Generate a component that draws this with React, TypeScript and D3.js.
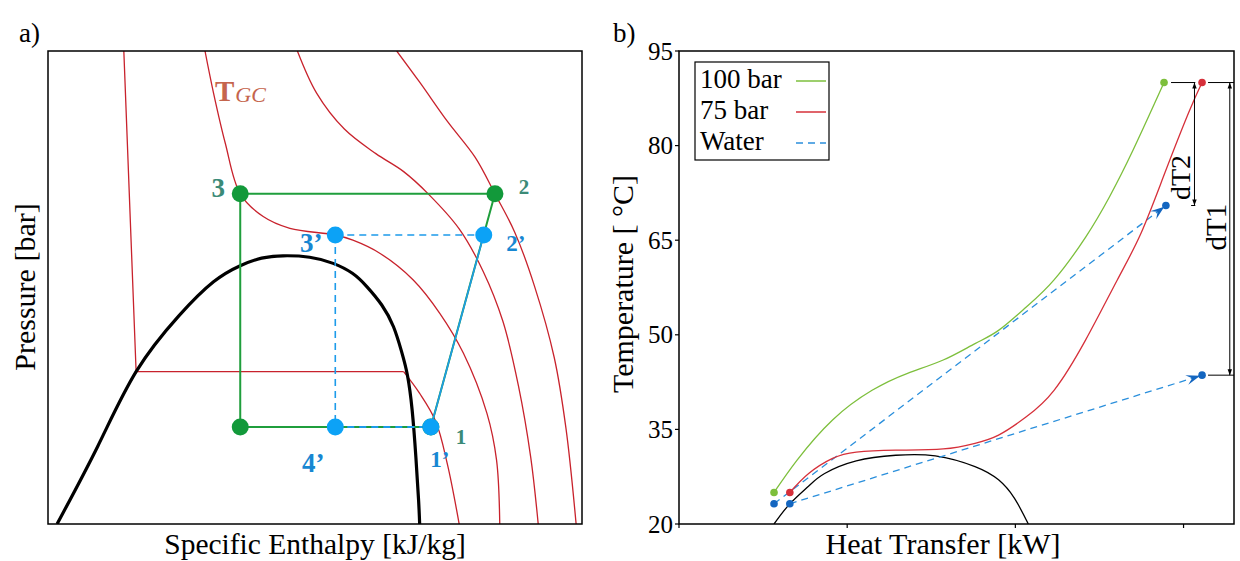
import React from 'react';
import * as d3 from 'd3';

const FONT = '"Liberation Serif", "DejaVu Serif", serif';

// ---------- Panel a (p-h diagram, normalised units 0..100) ----------
const domeA: [number, number][] = [[1.7,0],[9.3,16.4],[16.5,32.2],[24.5,44],[31,51.2],[36,54.6],[40,56.2],[44,56.7],[49,56.4],[53.4,55.1],[57,53],[59.7,50.2],[62.5,46.3],[64.7,41.7],[66.2,36.5],[67.3,31.5],[68.2,24],[68.9,14],[69.4,5],[69.6,0]];
const iso1Straight: [number, number][] = [[14.2,100],[16.5,32.2],[66.6,32.2]];
const iso1Curve: [number, number][] = [[66.6,32.2],[69.6,27.6],[72.6,21.7],[74.8,12.6],[77,0]];
const iso2: [number, number][] = [[29.4,100],[31,91.1],[33.2,80.5],[36,69.8],[40.3,65],[45.3,62.5],[53.8,61.1],[57.1,60],[62.2,57.2],[68.4,51.6],[73.4,44.5],[77.8,36.1],[82.2,23.4],[84,13.5],[84.6,0]];
const iso3: [number, number][] = [[46.7,100],[50.3,91.1],[55.5,83.5],[61.4,78.3],[66.6,74.5],[71.2,69.8],[77,62.4],[81.5,53.4],[85.2,42.8],[88.1,29.2],[90.4,14.1],[91.8,0]];
const iso4: [number, number][] = [[65.3,100],[69.6,93.4],[74.8,85.1],[80,77.5],[83.7,69.8],[87.4,61.7],[91.1,50.3],[94.8,35.2],[97,20.2],[98.9,0]];

const cycleLabels = ['3', '2', '1', ''];
const cycleH = [36, 83.7, 71.7, 36];
const cycleP = [69.8, 69.8, 20.5, 20.5];
const primeLabels = ['3’', '2’', '1’', '4’'];
const primeH = [53.8, 81.6, 71.7, 53.8];
const primeP = [61.1, 61.1, 20.5, 20.5];

// ---------- Panel b (T-Q diagram) ----------
const yTicks = [20, 35, 50, 65, 80, 95];
const xTicks = [0, 1, 2, 3];
const bar100: [number, number][] = [[0.565,25],[0.701,30.1],[0.913,36.5],[1.148,41.2],[1.359,43.9],[1.571,46],[1.76,48.6],[1.9,50.7],[2.065,54.4],[2.23,58.7],[2.418,65.5],[2.56,71.9],[2.7,79.3],[2.884,90]];
const bar75: [number, number][] = [[0.659,25],[0.771,28],[0.913,30.4],[1.054,31.4],[1.289,31.7],[1.571,31.9],[1.76,32.8],[1.9,34.1],[2.065,37],[2.23,41.2],[2.418,49.2],[2.606,58.7],[2.747,66.1],[2.888,75.6],[3.03,85.2],[3.11,90]];
const domeB: [number, number][] = [[0.565,20],[0.659,23.2],[0.77,26],[0.866,28],[1.054,30],[1.289,30.9],[1.524,30.8],[1.76,29.1],[1.9,27],[1.994,24.1],[2.077,20]];
const water1: [number, number][] = [[0.565,23.2],[2.895,70.5]];
const water2: [number, number][] = [[0.659,23.2],[3.11,43.6]];
const legendNames = ['100 bar', '75 bar', 'Water'];
const legendColors = ['#7dbf3c', '#d6303a', '#2a8fdc'];

export default function App() {
  const xA = d3.scaleLinear().domain([0, 100]).range([48, 582]);
  const yA = d3.scaleLinear().domain([0, 100]).range([524, 51]);
  const xB = d3.scaleLinear().domain([0, 3.3]).range([679, 1234]);
  const yB = d3.scaleLinear().domain([20, 95]).range([524, 51]);

  const curveA = d3.line<[number, number]>().x(d => xA(d[0])).y(d => yA(d[1])).curve(d3.curveCatmullRom.alpha(0.5));
  const natA = d3.line<[number, number]>().x(d => xA(d[0])).y(d => yA(d[1])).curve(d3.curveNatural);
  const linA = d3.line<[number, number]>().x(d => xA(d[0])).y(d => yA(d[1]));
  const curveB = d3.line<[number, number]>().x(d => xB(d[0])).y(d => yB(d[1])).curve(d3.curveNatural);
  const linB = d3.line<[number, number]>().x(d => xB(d[0])).y(d => yB(d[1]));

  const red = '#c8222c';
  const greenC = '#1f9e3c';
  const greenDot = '#12993a';
  const blueDot = '#0ca2f6';
  const blueLine = '#1d9bea';
  const teal = '#3b8a77';
  const blueTxt = '#1787d2';
  const waterDot = '#1466c0';

  const arrowHead = (pts: [number, number][], color: string, L = 14, W = 5) => {
    const [x0, y0] = [xB(pts[0][0]), yB(pts[0][1])];
    const [x1, y1] = [xB(pts[1][0]), yB(pts[1][1])];
    const a = Math.atan2(y1 - y0, x1 - x0);
    const c = Math.cos(a), s = Math.sin(a);
    const tx = x1 - 2 * c, ty = y1 - 2 * s;
    const p = [
      [tx, ty],
      [tx - L * c + W * s, ty - L * s - W * c],
      [tx - 0.6 * L * c, ty - 0.6 * L * s],
      [tx - L * c - W * s, ty - L * s + W * c],
    ];
    return <polygon points={p.map(q => q.join(',')).join(' ')} fill={color} />;
  };

  const vArrow = (x: number, t0: number, t1: number) => {
    const X = xB(x), Y0 = yB(t0), Y1 = yB(t1);
    const L = 6, W = 2.2;
    return (
      <g>
        <line x1={X} x2={X} y1={Y0} y2={Y1} stroke="#000" strokeWidth={1} />
        <polygon points={`${X},${Y0} ${X - W},${Y0 + L} ${X + W},${Y0 + L}`} fill="#000" />
        <polygon points={`${X},${Y1} ${X - W},${Y1 - L} ${X + W},${Y1 - L}`} fill="#000" />
      </g>
    );
  };

  // green cycle path order: 3 -> 2 -> 1 -> 4 -> 3
  const greenPts: [number, number][] = [0, 1, 2, 3, 0].map(i => [cycleH[i], cycleP[i]]);
  const labelOffA = [[-22, -6], [29, -7], [30, 10], [0, 0]];
  const labelOffP = [[-24, 8], [32, 9], [9, 32], [-22, 36]];

  return (
    <svg width={1240} height={561} style={{ position: 'absolute', left: 0, top: 0, background: '#fff' }} fontFamily={FONT}>
      <defs>
        <clipPath id="clipA"><rect x={48} y={51} width={534} height={473} /></clipPath>
        <clipPath id="clipB"><rect x={679} y={51} width={555} height={473} /></clipPath>
      </defs>
      <rect width={1240} height={561} fill="#fff" />

      {/* ---------------- Panel a ---------------- */}
      <text x={19} y={42} fontSize={27}>a)</text>
      <g clipPath="url(#clipA)" fill="none">
        <path d={linA(iso1Straight) || ''} stroke={red} strokeWidth={1.3} />
        <path d={curveA(iso1Curve) || ''} stroke={red} strokeWidth={1.3} />
        <path d={curveA(iso2) || ''} stroke={red} strokeWidth={1.3} />
        <path d={curveA(iso3) || ''} stroke={red} strokeWidth={1.3} />
        <path d={curveA(iso4) || ''} stroke={red} strokeWidth={1.3} />
        <path d={natA(domeA) || ''} stroke="#000" strokeWidth={3.2} />
        <path d={linA(greenPts) || ''} stroke={greenC} strokeWidth={2} />
        {/* primed cycle */}
        <path d={linA([[primeH[0], primeP[0]], [primeH[1], primeP[1]]]) || ''} stroke={blueLine} strokeWidth={1.6} strokeDasharray="7,5" />
        <path d={linA([[primeH[0], primeP[0]], [primeH[3], primeP[3]]]) || ''} stroke={blueLine} strokeWidth={1.6} strokeDasharray="7,5" />
        <path d={linA([[primeH[3], primeP[3]], [primeH[2], primeP[2]]]) || ''} stroke={blueLine} strokeWidth={2} strokeDasharray="7,5" />
        <path d={linA([[primeH[2], primeP[2]], [primeH[1], primeP[1]]]) || ''} stroke={blueLine} strokeWidth={1.6} />
      </g>
      {cycleH.map((h, i) => (
        <circle key={'g' + i} cx={xA(h)} cy={yA(cycleP[i])} r={8.5} fill={greenDot} />
      ))}
      {primeH.map((h, i) => (
        <circle key={'b' + i} cx={xA(h)} cy={yA(primeP[i])} r={8.5} fill={blueDot} />
      ))}
      {cycleLabels.map((l, i) => l ? (
        <text key={'gl' + i} x={xA(cycleH[i]) + labelOffA[i][0]} y={yA(cycleP[i]) + labelOffA[i][1]} fontSize={i === 0 ? 27 : 21} fontWeight="bold" fill={teal} textAnchor="middle" dominantBaseline="central">{l}</text>
      ) : null)}
      {primeLabels.map((l, i) => (
        <text key={'pl' + i} x={xA(primeH[i]) + labelOffP[i][0]} y={yA(primeP[i]) + labelOffP[i][1]} fontSize={i === 0 || i === 3 ? 27 : 23} fontWeight="bold" fill={blueTxt} textAnchor="middle" dominantBaseline="central">{l}</text>
      ))}
      <text x={215} y={101} fill="#c5654d" fontSize={29}>
        <tspan fontWeight="bold">T</tspan>
        <tspan fontStyle="italic" fontSize={22} dx={1} dy={1}>GC</tspan>
      </text>
      <rect x={48} y={51} width={534} height={473} fill="none" stroke="#000" strokeWidth={1.5} />
      <text x={315} y={554} fontSize={29.5} textAnchor="middle">Specific Enthalpy [kJ/kg]</text>
      <text transform="translate(35,287) rotate(-90)" fontSize={30} textAnchor="middle">Pressure [bar]</text>

      {/* ---------------- Panel b ---------------- */}
      <text x={613} y={42} fontSize={27}>b)</text>
      <g clipPath="url(#clipB)" fill="none">
        <path d={curveB(domeB) || ''} stroke="#000" strokeWidth={1.3} />
        <path d={linB(water1) || ''} stroke={legendColors[2]} strokeWidth={1.3} strokeDasharray="7,5" />
        <path d={linB(water2) || ''} stroke={legendColors[2]} strokeWidth={1.3} strokeDasharray="7,5" />
        <path d={curveB(bar100) || ''} stroke={legendColors[0]} strokeWidth={1.3} />
        <path d={curveB(bar75) || ''} stroke={legendColors[1]} strokeWidth={1.3} />
      </g>
      {arrowHead(water1, waterDot)}
      {arrowHead(water2, waterDot)}
      {[bar100[0], bar100[bar100.length - 1]].map((d, i) => (
        <circle key={'d100' + i} cx={xB(d[0])} cy={yB(d[1])} r={3.8} fill={legendColors[0]} />
      ))}
      {[bar75[0], bar75[bar75.length - 1]].map((d, i) => (
        <circle key={'d75' + i} cx={xB(d[0])} cy={yB(d[1])} r={3.8} fill={legendColors[1]} />
      ))}
      {[water1[0], water1[1], water2[0], water2[1]].map((d, i) => (
        <circle key={'dw' + i} cx={xB(d[0])} cy={yB(d[1])} r={3.8} fill={waterDot} />
      ))}

      {/* dT annotations */}
      <line x1={xB(bar100[bar100.length - 1][0]) + 7} x2={xB(3.07)} y1={yB(90)} y2={yB(90)} stroke="#000" strokeWidth={1} />
      <line x1={xB(bar75[bar75.length - 1][0]) + 6} x2={xB(3.3)} y1={yB(90)} y2={yB(90)} stroke="#000" strokeWidth={1} />
      <line x1={xB(water2[1][0]) + 6} x2={xB(3.3)} y1={yB(water2[1][1])} y2={yB(water2[1][1])} stroke="#000" strokeWidth={1} />
      <line x1={xB(3.045)} x2={xB(3.07)} y1={yB(water1[1][1])} y2={yB(water1[1][1])} stroke="#000" strokeWidth={1} />
      {vArrow(3.065, 90, water1[1][1])}
      {vArrow(3.275, 90, water2[1][1])}
      <text transform={`translate(${xB(3.065) - 4},${yB(water1[1][1]) - 28}) rotate(-90)`} fontSize={28} textAnchor="middle">dT2</text>
      <text transform={`translate(${xB(3.275) - 4},${yB(water2[1][1]) - 148}) rotate(-90)`} fontSize={29} textAnchor="middle">dT1</text>

      {/* axes */}
      <rect x={679} y={51} width={555} height={473} fill="none" stroke="#000" strokeWidth={1.5} />
      {yTicks.map(t => (
        <g key={'yt' + t}>
          <line x1={679} x2={675} y1={yB(t)} y2={yB(t)} stroke="#000" strokeWidth={1.2} />
          <text x={673} y={yB(t)} fontSize={25} textAnchor="end" dominantBaseline="central">{t}</text>
        </g>
      ))}
      {xTicks.map(t => (
        <line key={'xt' + t} x1={xB(t)} x2={xB(t)} y1={524} y2={528} stroke="#000" strokeWidth={1.2} />
      ))}
      <text x={943} y={554} fontSize={30} textAnchor="middle">Heat Transfer [kW]</text>
      <text transform="translate(633,284) rotate(-90)" fontSize={30} textAnchor="middle">Temperature [ °C]</text>

      {/* legend */}
      <rect x={695} y={62} width={134} height={98} fill="#fff" stroke="#000" strokeWidth={1.2} />
      {legendNames.map((n, i) => (
        <g key={'lg' + i}>
          <text x={700} y={88 + i * 31} fontSize={27}>{n}</text>
          <line x1={796} x2={826} y1={81 + i * 31} y2={81 + i * 31} stroke={legendColors[i]} strokeWidth={1.5} strokeDasharray={i === 2 ? '7,5' : undefined} />
        </g>
      ))}
    </svg>
  );
}
